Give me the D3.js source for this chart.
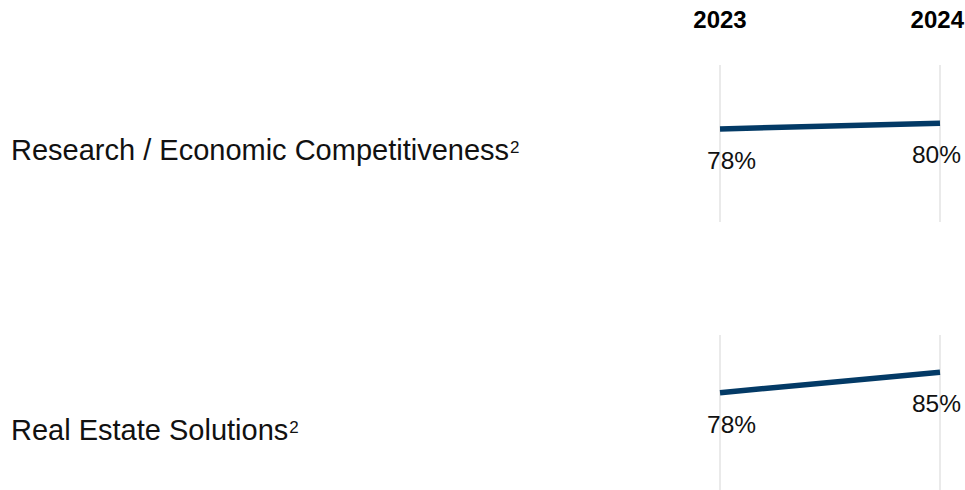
<!DOCTYPE html>
<html>
<head>
<meta charset="utf-8">
<script src="https://cdn.jsdelivr.net/npm/d3@7"></script>
<style>
  html, body { margin: 0; padding: 0; background: #fff; }
  svg { display: block; font-family: Arial, "Liberation Sans", sans-serif; }
</style>
</head>
<body>
<svg id="chart" width="965" height="490"></svg>
<script>
// Survey results by service area, 2023 vs 2024
const years = ["2023", "2024"];
const categories = ["Research / Economic Competitiveness", "Real Estate Solutions"];
const footnotes = ["2", "2"];
const values2023 = [78, 78];
const values2024 = [80, 85];

const W = 965, H = 490;
const svg = d3.select("#chart");

// horizontal positions of the two year columns
const x = d3.scalePoint().domain(years).range([720, 940]);

// panel layout: top of value scale, gridline extents, label baseline
const panels = [
  { top: 65, gridTop: 65, gridBottom: 222, labelY: 160 },
  { top: 328.7, gridTop: 335, gridBottom: 490, labelY: 440 }
];
const scaleHeight = 157;

// year headers
svg.append("text")
  .attr("x", x("2023")).attr("y", 28)
  .attr("text-anchor", "middle")
  .attr("font-weight", "bold").attr("font-size", 24).attr("fill", "#000")
  .text(years[0]);
svg.append("text")
  .attr("x", W - 1).attr("y", 28)
  .attr("text-anchor", "end")
  .attr("font-weight", "bold").attr("font-size", 24).attr("fill", "#000")
  .text(years[1]);

categories.forEach((cat, i) => {
  const p = panels[i];
  const y = d3.scaleLinear().domain([46, 100]).range([p.top + scaleHeight, p.top]);
  const g = svg.append("g");

  // vertical gridlines per year
  g.selectAll("line.grid").data(years).join("line")
    .attr("class", "grid")
    .attr("x1", d => x(d)).attr("x2", d => x(d))
    .attr("y1", p.gridTop).attr("y2", p.gridBottom)
    .attr("stroke", "#e3e3e3").attr("stroke-width", 1.5);

  const pts = [
    { year: years[0], v: values2023[i] },
    { year: years[1], v: values2024[i] }
  ];

  g.append("path")
    .datum(pts)
    .attr("d", d3.line().x(d => x(d.year)).y(d => y(d.v)))
    .attr("fill", "none")
    .attr("stroke", "#033a66")
    .attr("stroke-width", 5.5);

  // value labels below each point
  g.append("text")
    .attr("x", x(years[0]) - 13).attr("y", y(pts[0].v) + 40)
    .attr("text-anchor", "start").attr("font-size", 24.5).attr("fill", "#111")
    .text(pts[0].v + "%");
  g.append("text")
    .attr("x", x(years[1]) + 21).attr("y", y(pts[1].v) + 39.5)
    .attr("text-anchor", "end").attr("font-size", 24.5).attr("fill", "#111")
    .text(pts[1].v + "%");

  // category label with footnote marker
  const t = g.append("text")
    .attr("x", 11).attr("y", p.labelY)
    .attr("font-size", 29).attr("fill", "#111");
  t.append("tspan").text(cat);
  t.append("tspan")
    .attr("font-size", 17)
    .attr("dx", 1)
    .attr("dy", -7)
    .text(footnotes[i]);
});
</script>
</body>
</html>
